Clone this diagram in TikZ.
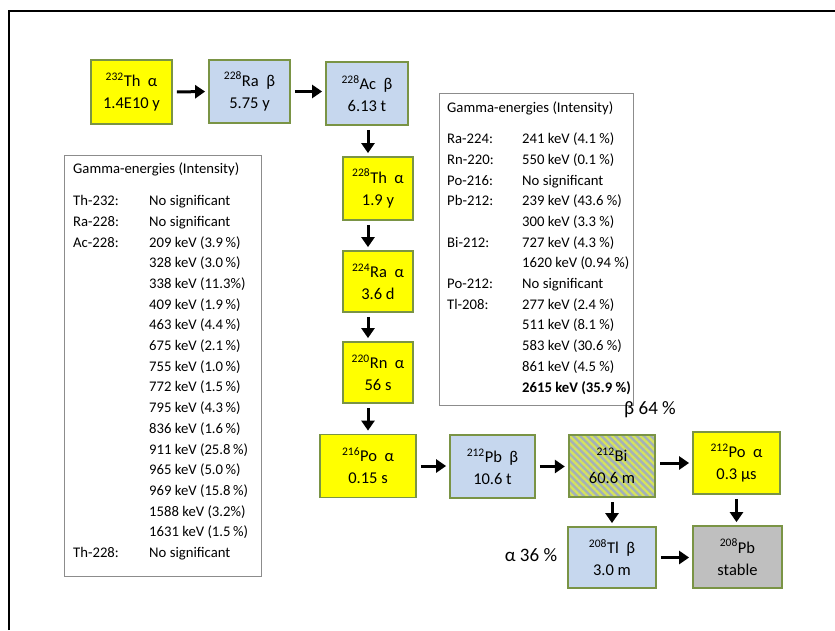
\documentclass[tikz,border=0pt]{standalone}
\usepackage{fontspec}
\setmainfont{Carlito}
\usetikzlibrary{arrows.meta, positioning, patterns.meta}

\definecolor{nucyellow}{HTML}{FFFF00}
\definecolor{nucblue}{HTML}{C6D7EE}
\definecolor{nucgrey}{HTML}{BFBFBF}
\definecolor{nucedge}{HTML}{7A9445}
\definecolor{hatchbase}{HTML}{A3B1B9}
\definecolor{hatchline}{HTML}{D6E35C}
\definecolor{tabedge}{HTML}{8C8C8C}

\begin{document}
\begin{tikzpicture}[x=1pt, y=-1pt]
            \tikzstyle{nuc} = [draw=nucedge, line width=1.8pt, rectangle, align=center, inner sep=0pt, font=\fontsize{16.5}{22}\selectfont]
            \tikzstyle{gbox} = [draw=tabedge, line width=1.2pt, fill=white, rectangle, inner sep=0pt]
            \tikzstyle{gtext} = [inner sep=0pt, font=\fontsize{14.7}{20.7}\selectfont]
            \tikzstyle{branch} = [font=\fontsize{19}{22}\selectfont]
            \tikzstyle{decay} = [line width=3pt, -{Triangle[length=10pt, width=13pt]}, shorten <=4pt, shorten >=3pt]

            \useasboundingbox (0,0) rectangle (835,630);
            \draw[line width=2.2pt] (9,630) -- (9,11) -- (835,11);

            % Gamma tables
            \node[gbox, minimum width=197pt, minimum height=421pt, anchor=north west] (gleft) at (64,155) {};
            \node[gtext, below right=4pt and 9pt of gleft.north west] (gleftlist) {%
                \begin{tabular}{@{}p{76pt}@{}l@{}}
                \multicolumn{2}{@{}l@{}}{Gamma-energies (Intensity)}\\[11.3pt]
                Th-232: & No significant\\
                Ra-228: & No significant\\
                Ac-228: & 209 keV (3.9\,\%)\\
                        & 328 keV (3.0\,\%)\\
                        & 338 keV (11.3\%)\\
                        & 409 keV (1.9\,\%)\\
                        & 463 keV (4.4\,\%)\\
                        & 675 keV (2.1\,\%)\\
                        & 755 keV (1.0\,\%)\\
                        & 772 keV (1.5\,\%)\\
                        & 795 keV (4.3\,\%)\\
                        & 836 keV (1.6\,\%)\\
                        & 911 keV (25.8\,\%)\\
                        & 965 keV (5.0\,\%)\\
                        & 969 keV (15.8\,\%)\\
                        & 1588 keV (3.2\%)\\
                        & 1631 keV (1.5\,\%)\\
                Th-228: & No significant
                \end{tabular}};

            \node[gbox, minimum width=194pt, minimum height=312pt, anchor=north west] (gright) at (439,93) {};
            \node[gtext, below right=5pt and 8pt of gright.north west] (grightlist) {%
                \begin{tabular}{@{}p{75pt}@{}l@{}}
                \multicolumn{2}{@{}l@{}}{Gamma-energies (Intensity)}\\[10.3pt]
                Ra-224: & 241 keV (4.1 \%)\\
                Rn-220: & 550 keV (0.1 \%)\\
                Po-216: & No significant\\
                Pb-212: & 239 keV (43.6 \%)\\
                        & 300 keV (3.3 \%)\\
                Bi-212: & 727 keV (4.3 \%)\\
                        & 1620 keV (0.94 \%)\\
                Po-212: & No significant\\
                Tl-208: & 277 keV (2.4 \%)\\
                        & 511 keV (8.1 \%)\\
                        & 583 keV (30.6 \%)\\
                        & 861 keV (4.5 \%)\\
                        & \textbf{2615 keV (35.9 \%)}
                \end{tabular}};

            % Decay chain
            \node[nuc, fill=nucyellow, minimum width=81pt, minimum height=64pt] (th232) at (131.5,92) {\textsuperscript{232}Th\ \ α\\1.4E10 y};
            \node[nuc, fill=nucblue, minimum width=81pt, minimum height=63pt] (ra228) at (249.5,91.5) {\textsuperscript{228}Ra\ \ β\\5.75 y};
            \node[nuc, fill=nucblue, minimum width=82pt, minimum height=63pt] (ac228) at (367,93.5) {\textsuperscript{228}Ac\ \ β\\6.13 t};
            \node[nuc, fill=nucyellow, minimum width=70pt, minimum height=63pt] (th228) at (378,188.5) {\textsuperscript{228}Th\ \ α\\1.9 y};
            \node[nuc, fill=nucyellow, minimum width=70pt, minimum height=61pt] (ra224) at (378,281.5) {\textsuperscript{224}Ra\ \ α\\3.6 d};
            \node[nuc, fill=nucyellow, minimum width=70pt, minimum height=61pt] (rn220) at (378,372.5) {\textsuperscript{220}Rn\ \ α\\56 s};
            \node[nuc, fill=nucyellow, minimum width=96pt, minimum height=63pt] (po216) at (368,466) {\textsuperscript{216}Po\ \ α\\0.15 s};
            \node[nuc, fill=nucblue, minimum width=85pt, minimum height=63pt] (pb212) at (492.5,466.5) {\textsuperscript{212}Pb\ \ β\\10.6 t};
            \node[nuc, preaction={fill=hatchbase}, pattern={Lines[angle=-45, distance=5pt, line width=2.3pt]}, pattern color=hatchline, minimum width=86pt, minimum height=62pt] (bi212) at (612,466) {\textsuperscript{212}Bi\\60.6 m};
            \node[nuc, fill=nucyellow, minimum width=87pt, minimum height=62pt] (po212) at (736.5,463) {\textsuperscript{212}Po\ \ α\\0.3 µs};
            \node[nuc, fill=nucblue, minimum width=88pt, minimum height=61pt] (tl208) at (612,557.5) {\textsuperscript{208}Tl\ \ β\\3.0 m};
            \node[nuc, fill=nucgrey, minimum width=89pt, minimum height=62pt] (pb208) at (737.5,557) {\textsuperscript{208}Pb\\stable};

            % Branching ratios
            \node[branch] (beta64) at (650,410) {β 64 \%};
            \node[branch] (alpha36) at (531,555) {α 36 \%};

            % Arrows
            \draw[decay] (th232.east) -- (ra228.west);
            \draw[decay] (ra228.east) -- (ra228.east -| ac228.west);
            \draw[decay] (ac228.south -| po216) -- (th228.north -| po216);
            \draw[decay] (th228.south -| po216) -- (ra224.north -| po216);
            \draw[decay] (ra224.south -| po216) -- (rn220.north -| po216);
            \draw[decay] (rn220.south -| po216) -- (po216.north);
            \draw[decay] (po216.east) -- (po216.east -| pb212.west);
            \draw[decay] (pb212.east) -- (pb212.east -| bi212.west);
            \draw[decay] (po212.west -| bi212.east) -- (po212.west);
            \draw[decay] (bi212.south) -- (tl208.north);
            \draw[decay] (po212.south) -- (po212.south |- pb208.north);
            \draw[decay] (tl208.east) -- (tl208.east -| pb208.west);
\end{tikzpicture}
\end{document}
